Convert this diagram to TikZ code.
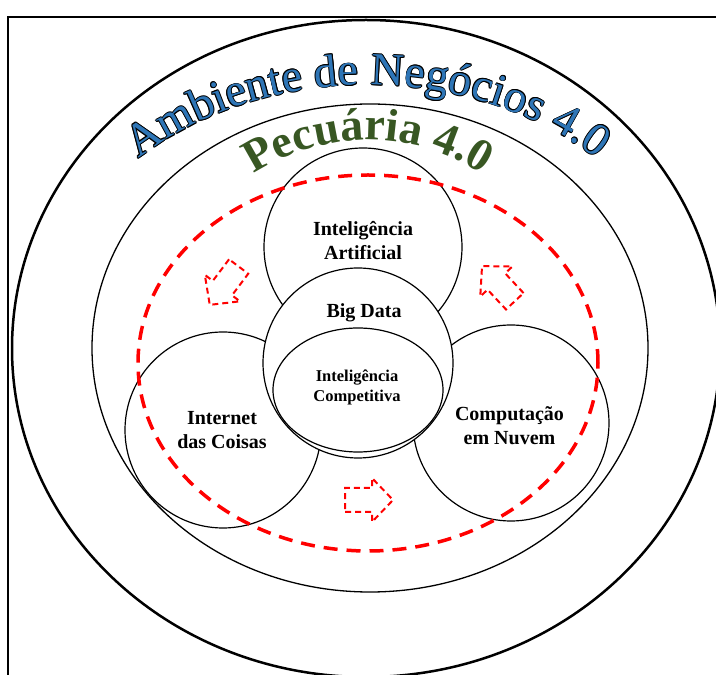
\documentclass[tikz,border=0pt]{standalone}
\usepackage{fontspec}
\setmainfont{Liberation Serif}
\usetikzlibrary{decorations.text}
\definecolor{ablue}{RGB}{46,117,182}
\definecolor{pgreen}{RGB}{56,87,35}
\newcommand\ambfont{\fontsize{46}{50}\selectfont}
\newcommand\pecfont{\fontsize{46}{50}\selectfont\bfseries}
\begin{document}
\begin{tikzpicture}[x=1pt,y=1pt,
  ring/.style={draw=black, line width=1.2pt},
  lbl/.style={font=\fontsize{20}{24}\selectfont\bfseries, align=center, inner sep=0pt},
  slbl/.style={font=\fontsize{16.5}{20}\selectfont\bfseries, align=center, inner sep=0pt},
  dasharrow/.style={draw=red, fill=white, line width=2pt, dash pattern=on 6pt off 4pt},
  blockarrow/.pic={\path[dasharrow] (-24,-12) -- (3,-12) -- (3,-22) -- (24,0) -- (3,22) -- (3,12) -- (-24,12) -- cycle;}
]
\useasboundingbox (0,0) rectangle (716,675);
\clip (0,0) rectangle (716,675);
\fill[white] (0,0) rectangle (716,675);
% frame
\draw[line width=1.5pt] (8,-20) rectangle (740,658);
% outer ellipse
\draw[line width=2.5pt] (366,326.5) ellipse [x radius=354, y radius=328.5];
% Pecuaria ellipse
\draw[line width=1.3pt] (370,327) ellipse [x radius=278, y radius=244];
% three circles
\draw[ring] (363,428) circle [radius=99];
\draw[ring] (223,245) circle [radius=98];
\draw[ring] (511,252) circle [radius=98];
% red dashed cycle
\draw[red, line width=3.5pt, dash pattern=on 14pt off 9pt] (368,312) ellipse [x radius=230, y radius=188];
% Big Data
\draw[ring, fill=white] (358,312) circle [radius=95];
\draw[ring] (358,285) ellipse [x radius=85, y radius=62];
% arrows
\pic[rotate=233] at (224.2,389.3) {blockarrow};
\pic[rotate=133] at (498.4,391.3) {blockarrow};
\pic at (369,175) {blockarrow};
% labels
\node[lbl] (ia) at (363,434) {Inteligência\\Artificial};
\node[lbl] (bd) at (364,362) {Big Data};
\node[slbl] (ic) at (357,288) {Inteligência\\Competitiva};
\node[lbl] (iot) at (222,244.5) {Internet\\das Coisas};
\node[lbl] (cn) at (509.5,249.5) {Computação\\em Nuvem};
% curved titles
\foreach \dx/\dy in {0.8/0,-0.8/0,0/0.8,0/-0.8,0.57/0.57,-0.57/0.57,0.57/-0.57,-0.57/-0.57}{
  \path[shift={(\dx,\dy)}, decorate, decoration={text along path, text align=center,
    text={|\ambfont\color{black}|Ambiente de Negócios 4.0}}]
    (368,327) ++(170:330 and 263) arc [start angle=170, end angle=10, x radius=330, y radius=263];
}
\path[decorate, decoration={text along path, text align=center,
    text={|\ambfont\color{ablue}|Ambiente de Negócios 4.0}}]
    (368,327) ++(170:330 and 263) arc [start angle=170, end angle=10, x radius=330, y radius=263];
\path[decorate, decoration={text along path, text align=center,
    text={|\pecfont\color{pgreen}|Pecuária 4.0}}]
    (368,327) ++(160:208) arc [start angle=160, end angle=20, radius=208];
\end{tikzpicture}
\end{document}
